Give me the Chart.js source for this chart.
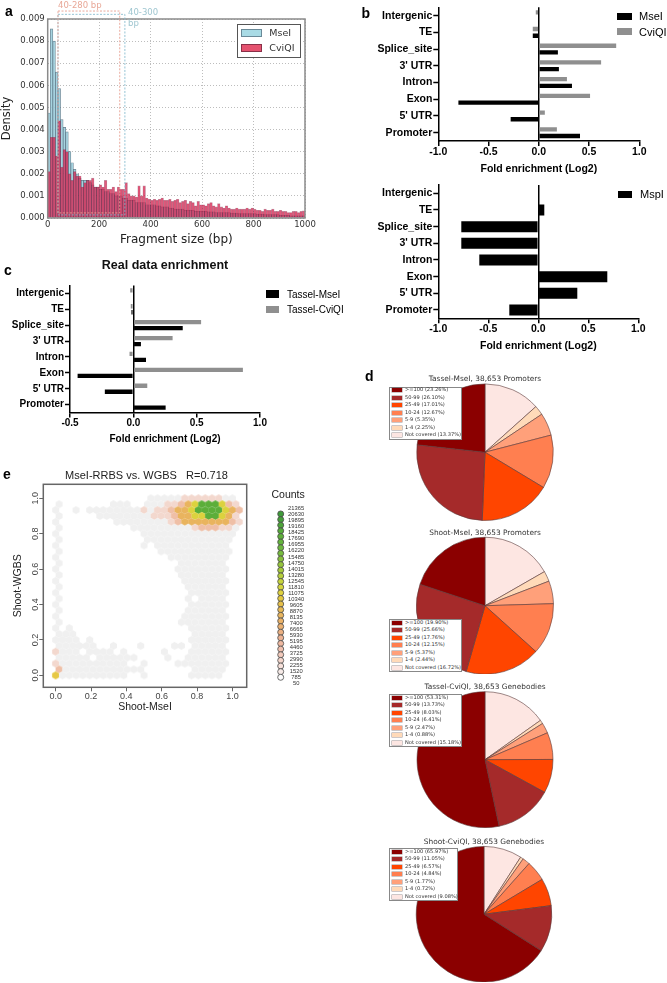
<!DOCTYPE html>
<html><head><meta charset="utf-8">
<style>
html,body{margin:0;padding:0;background:#fff;}
#page{position:relative;width:667px;height:983px;overflow:hidden;background:#fff;}
canvas{position:absolute;}
.t{position:absolute;white-space:pre;line-height:1;transform:translateY(-50%);}
.sw{position:absolute;box-sizing:border-box;}
.box{position:absolute;box-sizing:border-box;background:#fff;}
</style>
<script src="https://cdn.jsdelivr.net/npm/chart.js@4"></script>
</head><body><div id="page"></div>
<script>
// ---------- panel a
const binCenters=[5,15,25,35,45,55,65,75,85,95,105,115,125,135,145,155,165,175,185,195,205,215,225,235,245,255,265,275,285,295,305,315,325,335,345,355,365,375,385,395,405,415,425,435,445,455,465,475,485,495,505,515,525,535,545,555,565,575,585,595,605,615,625,635,645,655,665,675,685,695,705,715,725,735,745,755,765,775,785,795,805,815,825,835,845,855,865,875,885,895,905,915,925,935,945,955,965,975,985,995];
const mseIDensity=[.00475,.00855,.0080,.0066,.00585,.00445,.0041,.0039,.0030,.0025,
.0022,.0020,.0018,.0017,.0017,.0017,.0016,.0015,.0014,.0014,
.0013,.0013,.0012,.0012,.0011,.0011,.0010,.0010,.0010,.0009,
.0009,.0008,.0008,.0008,.0007,.0007,.0007,.0007,.0006,.0006,
.0006,.0006,.00055,.00055,.0005,.0005,.0005,.00045,.00045,.0004,
.0004,.0004,.0004,.00035,.00035,.00035,.00035,.0003,.0003,.0003,
.0003,.0003,.00028,.00028,.00028,.00025,.00025,.00025,.00025,.00025,
.00025,.00022,.00022,.00022,.0002,.0002,.0002,.0002,.0002,.0002,
.0002,.00018,.00018,.00018,.00015,.00015,.00015,.00015,.00015,.00015,
.00012,.00012,.00012,.00012,.0001,.0001,.0001,.0001,.0001,.0001];
const cviQIDensity=[.0021,.00365,.00365,.0028,.0044,.0023,.0031,.0030,.0020,.0017,
.0021,.0019,.0019,.0014,.0016,.0017,.0017,.0018,.0014,.0014,
.0015,.0014,.0017,.0013,.0013,.0014,.0012,.0014,.0013,.0013,
.0016,.0011,.0010,.0010,.00095,.00145,.0010,.00145,.0009,.00085,
.0008,.00085,.0008,.00085,.0009,.0008,.0008,.00085,.00075,.0008,
.00085,.0007,.00075,.0008,.00065,.00075,.0007,.00055,.00075,.0006,
.0006,.00055,.00065,.0007,.00055,.0005,.00065,.0005,.00045,.00055,
.00045,.0004,.0004,.00045,.0004,.0004,.0004,.00045,.0004,.00045,
.0004,.00035,.00035,.0003,.0004,.00035,.00035,.0004,.0003,.0003,
.00035,.0003,.0003,.00025,.00025,.0003,.0003,.00025,.0003,.00032];
const densityTicks=[0,.001,.002,.003,.004,.005,.006,.007,.008,.009];
const sizeTicks=[0,200,400,600,800,1000];
const windowPink=[40,280,.00936,.00023];
const windowBlue=[40,300,.00921,.00014];
// ---------- panels b, c
const features=["Intergenic","TE","Splice_site","3' UTR","Intron","Exon","5' UTR","Promoter"];
const enrichMseI=[0,-.06,.19,.20,.33,-.80,-.28,.41];
const enrichCviQI=[-.03,-.06,.77,.62,.28,.51,.06,.18];
const enrichMspI=[0,.06,-.77,-.77,-.59,.69,.39,-.29];
const enrichTasselMseI=[0,-.015,.39,.06,.10,-.44,-.225,.255];
const enrichTasselCviQI=[-.025,-.02,.535,.31,-.03,.865,.11,.01];
// ---------- panel d
const coverageBins=[">=100","50-99","25-49","10-24","5-9","1-4","Not covered"];
const coverageColors=["#8b0000","#a52a2a","#ff4500","#ff7f50","#ffa07a","#ffdab9","#fde6e2"];
const tasselMseI=[23.26,26.10,17.01,12.67,5.35,2.25,13.37];
const shootMseI=[19.90,25.66,17.76,12.15,5.37,2.44,16.72];
const tasselCviQI=[53.31,13.73,8.03,6.41,2.47,0.88,15.18];
const shootCviQI=[65.97,11.05,6.57,4.84,1.77,0.72,9.08];
// ---------- panel e : hexbin cells, top row first; one letter per cell
const hexRows=[
"..............gggggppppppgg",
"g.......ggg..gggpproyGGGyrp",
"g..g.ggggggggpgpprooyGGGGyor",
"g.....ggggggggppprooyyGGyop",
"g........ggggggggprooooooorp",
"g..........gggggggggprrrppg",
"g............gggggggggggggg",
"g............ggggggggggggg",
"g............g.ggggggggggg",
"g..............ggggggggggg",
"g................ggggggggg",
"g.................ggggggg",
"g.................gggggggg",
"g.................ggggggg",
"g..................ggggggg",
"g..................gggggg",
"g...................gggggg",
"g..................g.gggg",
"g...................gggggg",
"g..................gggggg",
"g..................ggggggg",
"g.................ggggggg",
"g.g.................gggggg",
"ggg.................ggggg",
"gggg.g..............gggggg",
"gggggg..g...g....gg.ggggg",
"pggg.gggg.g.....g...gggggg",
"ggggg.gggggg....g..gggggg",
"pgggggggggg..g....gggggggg",
"rgggggggggggg.......ggggg",
"Ygggggggggg..g......ggggg"];
const hexColors={g:"#f0f0f0",p:"#f3d8ce",r:"#efbfa6",o:"#e9b45e",y:"#dcd23e",l:"#a8ca3c",G:"#5cae3a",Y:"#e6c844"};
const countLabels=["21365","20630","19895","19160","18425","17690","16955","16220","15485","14750","14015","13280","12545","11810","11075","10340","9605","8870","8135","7400","6665","5930","5195","4460","3725","2990","2255","1520","785","50"];
const countColors=["#3f9a3a","#469f3a","#4da53a","#55aa3a","#5cae3a","#63b33c","#6cb83e","#76bc3e","#86c03c","#95c53c","#a6ca3c","#b5cf3c","#c6d43c","#d4d63c","#dfd23e","#e3c840","#e6c04a","#e8ba56","#e9b660","#eab268","#eab070","#ebb082","#ecb292","#eeb8a0","#f0c0ae","#f2cabc","#f4d6cc","#f6e0da","#f7ebe8","#fdfdfd"];

// ---------- helpers
const page=document.getElementById('page');
const SANS='"Liberation Sans",Arial,sans-serif', DEJA='"DejaVu Sans",sans-serif';
Chart.defaults.animation=false;
Chart.defaults.responsive=false;
Chart.defaults.maintainAspectRatio=false;
Chart.defaults.plugins.legend.display=false;
Chart.defaults.plugins.tooltip.enabled=false;
function cv(l,t,w,h){const c=document.createElement('canvas');c.width=w;c.height=h;c.style.left=l+'px';c.style.top=t+'px';c.style.width=w+'px';c.style.height=h+'px';page.appendChild(c);return c;}
function txt(s,x,y,font,color,extra){const d=document.createElement('div');d.className='t';d.textContent=s;d.style.left=x+'px';d.style.top=y+'px';d.style.font=font;d.style.lineHeight='1';d.style.color=color||'#000';if(extra)Object.assign(d.style,extra);page.appendChild(d);return d;}
function sw(x,y,w,h,bg,border,shadow){const d=document.createElement('div');d.className='sw';Object.assign(d.style,{left:x+'px',top:y+'px',width:w+'px',height:h+'px',background:bg,border:border||'none',boxShadow:shadow||'none'});page.appendChild(d);return d;}
const spacer=w=>({type:'linear',position:'right',afterFit:s=>{s.width=w},ticks:{display:false},grid:{display:false},border:{display:false}});

// ---------- panel a
const framePlugin={id:'frame',afterDatasetsDraw(ch,_,o){const a=ch.chartArea,c=ch.ctx;c.save();c.strokeStyle=o.color;c.lineWidth=o.width;c.strokeRect(a.left,a.top,a.right-a.left,a.bottom-a.top);c.restore();}};
const windowsPlugin={id:'windows',afterDatasetsDraw(ch){const c=ch.ctx,X=ch.scales.x,Y=ch.scales.y;c.save();c.lineWidth=1;c.setLineDash([2,1.5]);
 [[windowBlue,'rgba(130,185,205,.85)'],[windowPink,'rgba(232,160,145,.9)']].forEach(([w,col])=>{c.strokeStyle=col;const x0=X.getPixelForValue(w[0]),x1=X.getPixelForValue(w[1]),y0=Y.getPixelForValue(w[2]),y1=Y.getPixelForValue(w[3]);c.strokeRect(x0,y0,x1-x0,y1-y0);});c.restore();}};
new Chart(cv(0,0,330,250),{type:'bar',plugins:[framePlugin,windowsPlugin],
 data:{labels:binCenters,datasets:[
  {label:'MseI',data:mseIDensity,backgroundColor:'rgba(165,215,228,.85)',borderColor:'rgba(50,80,100,.7)',borderWidth:.7,grouped:false,barPercentage:1,categoryPercentage:1,order:2},
  {label:'CviQI',data:cviQIDensity,backgroundColor:'rgba(222,40,85,.72)',borderColor:'rgba(110,15,50,.42)',borderWidth:.6,grouped:false,barPercentage:1,categoryPercentage:1,order:1}]},
 options:{layout:{padding:{left:0,top:19,right:25,bottom:0}},
  plugins:{frame:{color:'#8a8a8a',width:1.5}},
  scales:{
   x:{type:'linear',min:0,max:1000,offset:false,afterFit:s=>{s.height=32},afterBuildTicks:s=>{s.ticks=sizeTicks.map(v=>({value:v}))},
      ticks:{callback:v=>String(v),font:{family:DEJA,size:8.5},color:'#333',padding:2,maxRotation:0},
      grid:{offset:false,color:'#bdbdbd',drawTicks:false},border:{dash:[1,2],display:false},
      title:{display:true,text:'Fragment size (bp)',font:{family:DEJA,size:12},color:'#222',padding:{top:0,bottom:3}}},
   y:{type:'linear',min:0,max:.009,afterFit:s=>{s.width=47.7},
      afterBuildTicks:s=>{s.ticks=densityTicks.map(v=>({value:v}))},
      ticks:{callback:v=>v.toFixed(3),font:{family:DEJA,size:8.5},color:'#333',padding:3},
      grid:{color:'#bdbdbd',drawTicks:false},border:{dash:[1,2],display:false},
      title:{display:true,text:'Density',font:{family:DEJA,size:11.5},color:'#222',padding:{top:0,bottom:0}}}}}});
txt('40-280 bp',58,4.5,`8.5px ${DEJA}`,'#e8a898');
txt('40-300',128,11.5,`8.5px ${DEJA}`,'#9fc6d0');
txt('bp',128,22.5,`8.5px ${DEJA}`,'#9fc6d0');
// legend a
const la=document.createElement('div');la.className='box';Object.assign(la.style,{left:'237.3px',top:'24.3px',width:'63.4px',height:'33.4px',border:'1px solid #555'});page.appendChild(la);
sw(241,29,21.3,7.7,'#a9dbe5','1px solid #6a8a98');txt('MseI',269.3,33,`9.5px ${DEJA}`,'#333');
sw(241,44,21.3,7.7,'#e5526f','1px solid #8a3048');txt('CviQI',269.3,48,`9.5px ${DEJA}`,'#333');

// ---------- bars b, c
function fe(canvas,conf){
 const font={family:SANS,size:conf.fs,weight:'bold'};
 return new Chart(canvas,{type:'bar',data:{labels:features,datasets:conf.series.map(s=>({label:s[0],data:s[1],backgroundColor:s[2],borderWidth:0,barPercentage:conf.bp,categoryPercentage:conf.cp}))},
  options:{indexAxis:'y',plugins:{title:conf.title||{display:false}},
   layout:{padding:{left:0,top:conf.top||0,right:0,bottom:0}},
   scales:{
    y:{type:'category',afterFit:s=>{s.width=conf.left},
       ticks:{font,color:'#000',padding:1,autoSkip:false},
       grid:{offset:false,drawOnChartArea:false,color:'#000',tickColor:'#000',tickLength:5,tickWidth:1.5},
       border:{color:'#000',width:1.5}},
    yr:spacer(conf.right),
    x:{type:'linear',min:conf.min,max:1,afterFit:s=>{s.height=conf.xh},
       afterBuildTicks:s=>{s.ticks=conf.ticks.map(v=>({value:v}))},
       ticks:{callback:v=>v.toFixed(1),font,color:'#000',padding:conf.tp,maxRotation:0},
       grid:{color:c=>c.tick&&c.tick.value===0?'#000':'rgba(0,0,0,0)',tickColor:'#000',lineWidth:1.5,tickWidth:1.5,tickLength:5},
       border:{color:'#000',width:1.5},
       title:{display:true,text:'Fold enrichment (Log2)',font,color:'#000',padding:{top:0,bottom:conf.pb}}}}}});
}
const tk=[-1,-.5,0,.5,1];
fe(cv(360,0,300,180),{series:[['CviQI',enrichCviQI,'#8f8f8f'],['MseI',enrichMseI,'#000']],bp:.65,cp:.8,fs:10.5,top:7,left:78.3,right:20.7,xh:39,min:-1,ticks:tk,tp:0,pb:4.4});
fe(cv(360,175,300,180),{series:[['MspI',enrichMspI,'#000']],bp:.66,cp:1,fs:10.5,top:10,left:78.3,right:21.7,xh:36.7,min:-1,ticks:tk,tp:0,pb:3});
fe(cv(0,255,330,190),{series:[['Tassel-CviQI',enrichTasselCviQI,'#8f8f8f'],['Tassel-MseI',enrichTasselMseI,'#000']],bp:.72,cp:.755,fs:10,top:0,left:70,right:70,xh:32.4,min:-.5,ticks:[-.5,0,.5,1],tp:0,pb:0,
 title:{display:true,text:'Real data enrichment',font:{family:SANS,size:12.5,weight:'bold'},color:'#111',padding:{top:3.5,bottom:11.9}}});
sw(616.7,12.7,15,7.3,'#000');txt('MseI',639,16,`11px ${SANS}`);
sw(616.7,28.3,15,6.7,'#8f8f8f');txt('CviQI',639,32,`11px ${SANS}`);
sw(618,190.7,14,7,'#000');txt('MspI',640,194,`11px ${SANS}`);
sw(265.7,290,13.6,7.7,'#000');txt('Tassel-MseI',287,294.5,`10px ${SANS}`);
sw(265.7,306,13.6,6.7,'#8f8f8f');txt('Tassel-CviQI',287,309.5,`10px ${SANS}`);

// ---------- pies d
function pie(title,vals,cx,cy,ty,r,fs){
 const lh=fs*1.2,titleBottom=8+lh/2,C=cy-(ty-8),H=Math.round(2*C-titleBottom),W=240;
 return new Chart(cv(cx-W/2,ty-8,W,H),{type:'pie',data:{labels:coverageBins.slice().reverse(),
  datasets:[{data:vals.slice().reverse(),backgroundColor:coverageColors.slice().reverse(),borderColor:'#5a3a3a',borderWidth:.6,radius:r}]},
  options:{layout:{padding:0},plugins:{title:{display:true,text:title,font:{family:DEJA,size:fs,weight:'normal'},color:'#333',padding:{top:8-lh/2,bottom:0}}}}});
}
pie('Tassel-MseI, 38,653 Promoters',tasselMseI,485.3,452.3,379.3,68.3,7.4);
pie('Shoot-MseI, 38,653 Promoters',shootMseI,485.3,605.3,532.7,68.5,7.4);
pie('Tassel-CviQI, 38,653 Genebodies',tasselCviQI,485.3,760,687.3,68,7.4);
pie('Shoot-CviQI, 38,653 Genebodies',shootCviQI,484.3,913.7,841.7,67.8,7.4);
function pieLegend(vals,x,y,w){
 const b=document.createElement('div');b.className='box';Object.assign(b.style,{left:x+'px',top:y+'px',width:w+'px',height:'53px',border:'1px solid #888'});page.appendChild(b);
 coverageBins.forEach((n,i)=>{const yy=y+3.7+7.47*i;sw(x+2.4,Math.round(yy-2),10,4,coverageColors[i],'none','0 0 0 .5px rgba(90,70,70,.6)');txt(`${n} (${vals[i].toFixed(2)}%)`,x+15.7,yy,`5.1px ${DEJA}`,'#333');});
}
pieLegend(tasselMseI,389.3,386.7,72.4);
pieLegend(shootMseI,389.3,619.3,72.4);
pieLegend(tasselCviQI,389.3,694,72.4);
pieLegend(shootCviQI,389.3,848.3,69);

// ---------- hexbin e
const dxHex=1/26, dyHex=1/30;
function hexSprite(col){const c=document.createElement('canvas');c.width=9;c.height=10;const g=c.getContext('2d');g.fillStyle=col;g.beginPath();
 for(let i=0;i<6;i++){const a=Math.PI/3*i+Math.PI/6,R=4.1;const px=4.5+R*Math.cos(a),py=5+R*Math.sin(a);i?g.lineTo(px,py):g.moveTo(px,py);}g.closePath();g.fill();return c;}
const sprites={};Object.keys(hexColors).forEach(k=>sprites[k]=hexSprite(hexColors[k]));
const hexPts=[],hexStyle=[];
hexRows.forEach((row,i)=>{const r=30-i;[...row].forEach((ch,c)=>{if(ch==='.')return;hexPts.push({x:(c+(r%2?.5:0))*dxHex,y:r*dyHex});hexStyle.push(sprites[ch]);});});
const eTicks=[0,.2,.4,.6,.8,1];
new Chart(cv(0,462,293,253),{type:'scatter',plugins:[framePlugin],
 data:{datasets:[{data:hexPts,pointStyle:hexStyle,pointRadius:4,borderWidth:0}]},
 options:{layout:{padding:0},
  plugins:{frame:{color:'#666',width:1.5},title:{display:true,text:'MseI-RRBS vs. WGBS   R=0.718',font:{family:SANS,size:11,weight:'normal'},color:'#222',padding:{top:7.4,bottom:1.7}}},
  scales:{
   x:{type:'linear',min:-.07,max:1.081,afterFit:s=>{s.height=27.7},afterBuildTicks:s=>{s.ticks=eTicks.map(v=>({value:v}))},
      ticks:{callback:v=>v.toFixed(1),font:{family:SANS,size:9},color:'#444',padding:0,maxRotation:0},
      grid:{drawOnChartArea:false,color:'#666',tickLength:4},border:{display:false},
      title:{display:true,text:'Shoot-MseI',font:{family:SANS,size:10.5},color:'#222',padding:{top:0,bottom:1.7}}},
   y:{type:'linear',min:-.0676,max:1.079,afterFit:s=>{s.width=43.3},afterBuildTicks:s=>{s.ticks=eTicks.map(v=>({value:v}))},
      ticks:{callback:v=>v.toFixed(1),font:{family:SANS,size:9},color:'#444',padding:-2,minRotation:90,maxRotation:90,crossAlign:'center'},
      grid:{drawOnChartArea:false,color:'#666',tickLength:4},border:{display:false},
      title:{display:true,text:'Shoot-WGBS',font:{family:SANS,size:10.5},color:'#222',padding:{top:11.7,bottom:0}}},
   yr:spacer(46.3)}}});
// counts key
new Chart(cv(269.4,503.6,48,184),{type:'scatter',
 data:{datasets:[{data:countLabels.map((_,i)=>({x:0,y:i})),yAxisID:'yc',clip:false,pointRadius:3,pointBackgroundColor:countColors,pointBorderColor:'#4a4a4a',pointBorderWidth:.8}]},
 options:{layout:{padding:0},scales:{
  x:{type:'linear',min:-1,max:1,display:false},
  yc:{type:'linear',min:-.908,max:30.05,reverse:true,display:false},
  y:{type:'category',position:'right',labels:countLabels,afterFit:s=>{s.width=29.4},
     ticks:{autoSkip:false,font:{family:SANS,size:5.8},color:'#333',padding:.5,crossAlign:'center'},
     grid:{display:false,drawTicks:false},border:{display:false}}}}});
txt('Counts',271.5,494,`10.5px ${SANS}`,'#222');

// panel letters
txt('a',5,10.5,`bold 14px ${SANS}`);
txt('b',361.5,13,`bold 14px ${SANS}`);
txt('c',4,270,`bold 14px ${SANS}`);
txt('d',365,375.5,`bold 14px ${SANS}`);
txt('e',3,473.5,`bold 14px ${SANS}`);
</script></body></html>
